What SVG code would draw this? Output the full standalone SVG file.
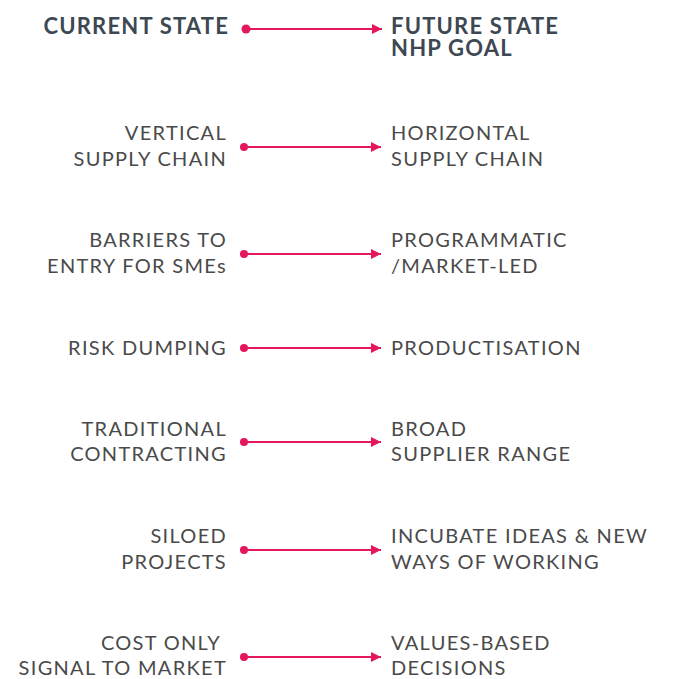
<svg xmlns="http://www.w3.org/2000/svg" width="677" height="679" viewBox="0 0 677 679">
<style>
.h{font-family:Lato,"Open Sans",sans-serif;font-weight:700;font-size:22px;letter-spacing:1.2px;fill:#3d4853}
.t{font-family:Lato,"Open Sans",sans-serif;font-weight:400;font-size:20px;letter-spacing:1.3px;fill:#4a4a4a}
.l{text-anchor:end}
.c{stroke:#e5175b;stroke-width:1.8;fill:none}
.d{fill:#e5175b}
</style>
<defs>
<marker id="ah" viewBox="0 0 10 10" refX="10" refY="5" markerWidth="10" markerHeight="10" markerUnits="userSpaceOnUse" orient="auto"><path d="M0,0 L10,5 L0,10 Z" fill="#e5175b"/></marker>
</defs>
<rect width="677" height="679" fill="#fff"/>
<g id="connectors">
<line class="c" x1="246" y1="29" x2="382" y2="29" marker-end="url(#ah)"/>
<circle class="d" cx="246" cy="29" r="4.5"/>
<line class="c" x1="244" y1="147" x2="381" y2="147" marker-end="url(#ah)"/>
<circle class="d" cx="244" cy="147" r="4"/>
<line class="c" x1="244" y1="254" x2="381" y2="254" marker-end="url(#ah)"/>
<circle class="d" cx="244" cy="254" r="4"/>
<line class="c" x1="244" y1="348" x2="381" y2="348" marker-end="url(#ah)"/>
<circle class="d" cx="244" cy="348" r="4"/>
<line class="c" x1="244" y1="442" x2="381" y2="442" marker-end="url(#ah)"/>
<circle class="d" cx="244" cy="442" r="4"/>
<line class="c" x1="244" y1="550" x2="381" y2="550" marker-end="url(#ah)"/>
<circle class="d" cx="244" cy="550" r="4"/>
<line class="c" x1="244" y1="657" x2="381" y2="657" marker-end="url(#ah)"/>
<circle class="d" cx="244" cy="657" r="4"/>
</g>
<g id="current-state"><text class="h l" x="229" y="34">CURRENT STATE</text></g>
<g id="future-state"><text class="h" x="391" y="34">FUTURE STATE</text><text class="h" x="391" y="56">NHP GOAL</text></g>
<g id="vertical"><text class="t l" x="227" y="140">VERTICAL</text><text class="t l" x="227" y="166">SUPPLY CHAIN</text></g>
<g id="horizontal"><text class="t" x="391" y="140">HORIZONTAL</text><text class="t" x="391" y="166">SUPPLY CHAIN</text></g>
<g id="barriers"><text class="t l" x="227" y="247">BARRIERS TO</text><text class="t l" x="227" y="273">ENTRY FOR SMEs</text></g>
<g id="programmatic"><text class="t" x="391" y="247">PROGRAMMATIC</text><text class="t" x="391" y="273">/MARKET-LED</text></g>
<g id="risk-dumping"><text class="t l" x="227" y="355">RISK DUMPING</text></g>
<g id="productisation"><text class="t" x="391" y="355">PRODUCTISATION</text></g>
<g id="traditional"><text class="t l" x="227" y="436">TRADITIONAL</text><text class="t l" x="227" y="461">CONTRACTING</text></g>
<g id="broad"><text class="t" x="391" y="436">BROAD</text><text class="t" x="391" y="461">SUPPLIER RANGE</text></g>
<g id="siloed"><text class="t l" x="227" y="543">SILOED</text><text class="t l" x="227" y="569">PROJECTS</text></g>
<g id="incubate"><text class="t" x="391" y="543">INCUBATE IDEAS &amp; NEW</text><text class="t" x="391" y="569">WAYS OF WORKING</text></g>
<g id="cost-only"><text class="t l" x="221" y="650">COST ONLY</text><text class="t l" x="227" y="675">SIGNAL TO MARKET</text></g>
<g id="values"><text class="t" x="391" y="650">VALUES-BASED</text><text class="t" x="391" y="675">DECISIONS</text></g>
</svg>
